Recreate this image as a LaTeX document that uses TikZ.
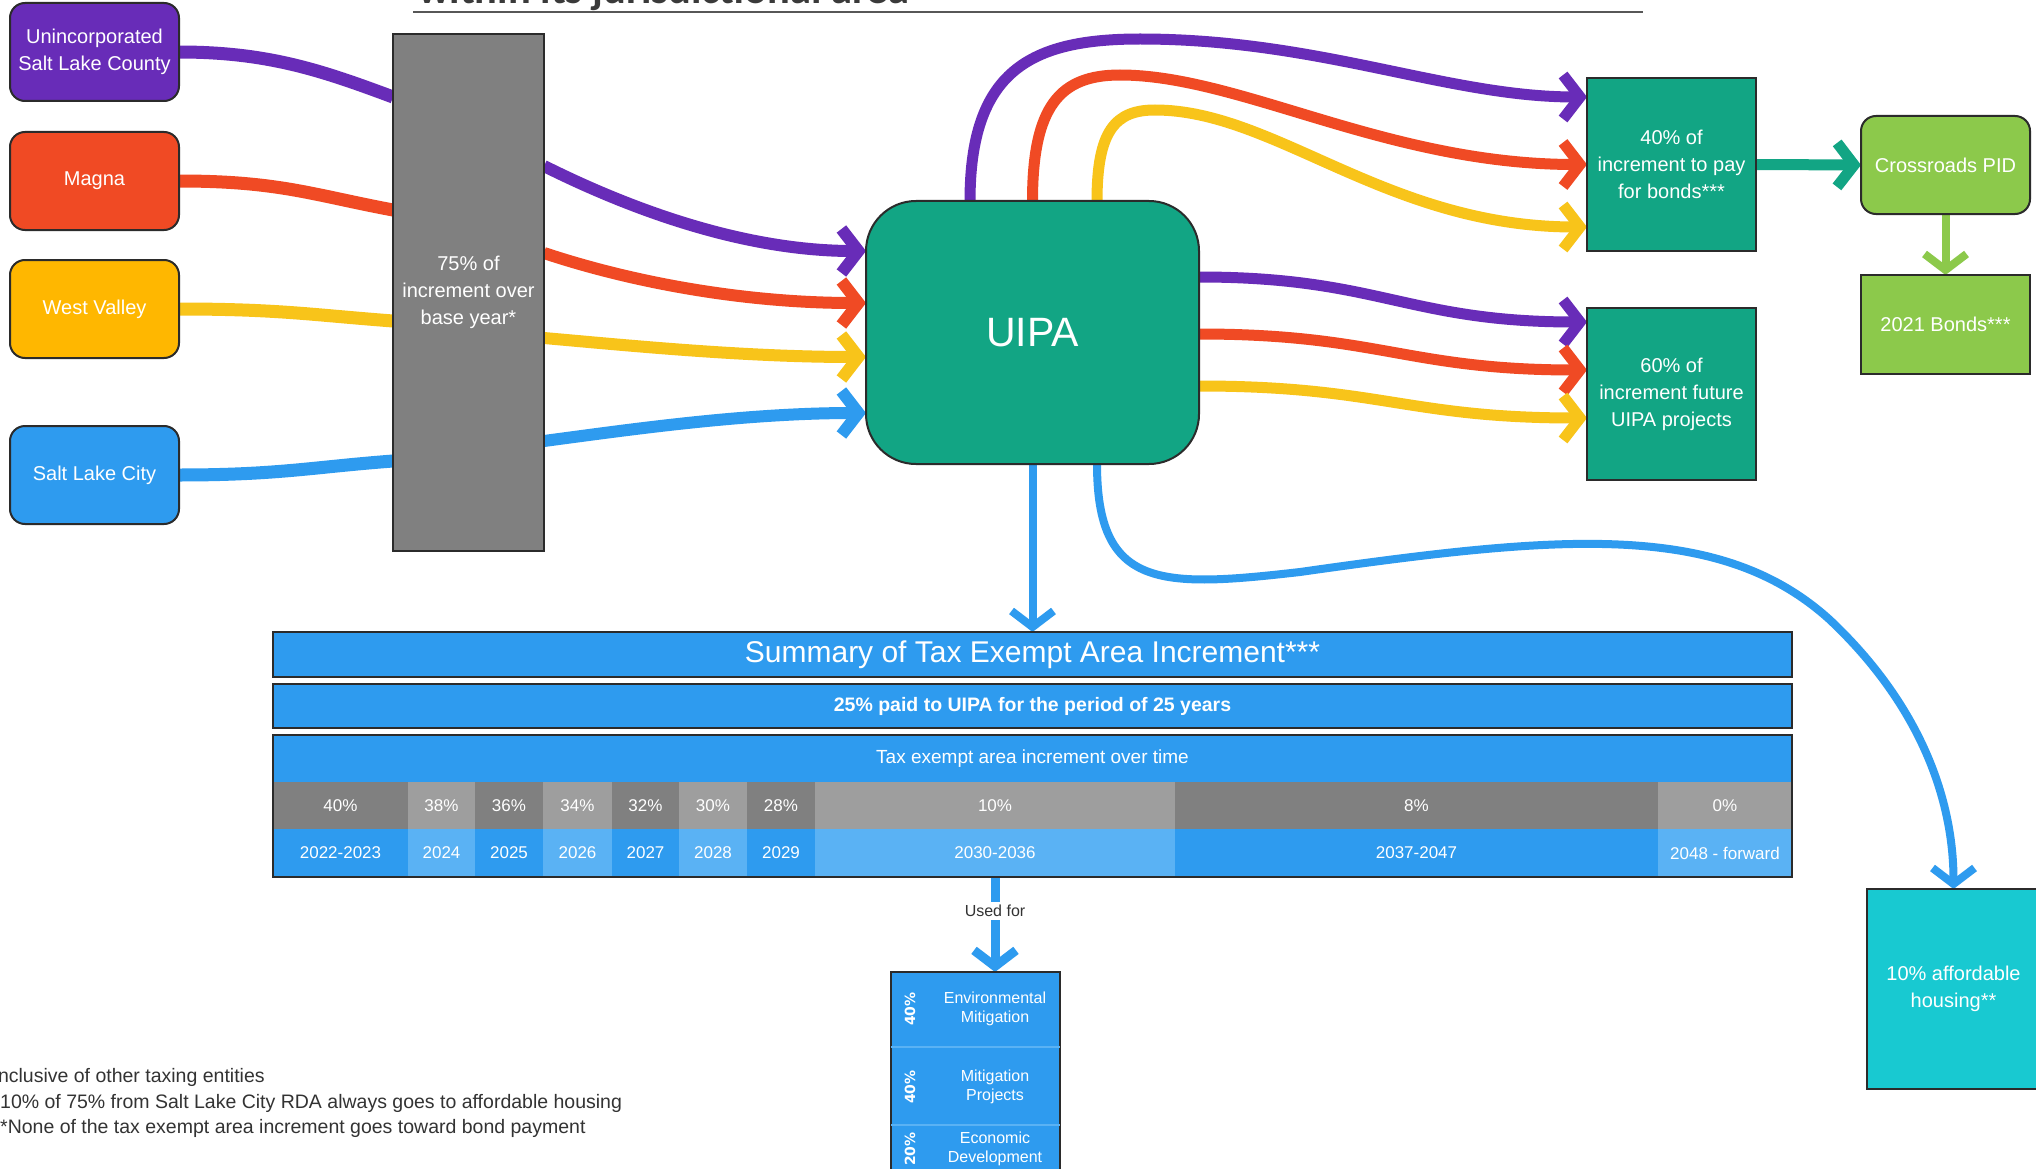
\documentclass[tikz,border=0pt]{standalone}
\usepackage{fontspec}
\setmainfont{Liberation Sans}
\newfontfamily\titlefont{Carlito}
\newfontfamily\pctfont{DejaVu Sans}
\usetikzlibrary{arrows.meta,calc}
\pgfdeclarelayer{bg}
\pgfsetlayers{bg,main}
\definecolor{purpleC}{HTML}{682CB8}
\definecolor{redC}{HTML}{F04A24}
\definecolor{amberC}{HTML}{FFB700}
\definecolor{yellowC}{HTML}{F8C41A}
\definecolor{blueC}{HTML}{2E9BEF}
\definecolor{blueL}{HTML}{5AB2F4}
\definecolor{grayD}{HTML}{808080}
\definecolor{grayL}{HTML}{9E9E9E}
\definecolor{tealC}{HTML}{12A584}
\definecolor{greenC}{HTML}{8CC94B}
\definecolor{cyanC}{HTML}{18C9D1}
\definecolor{borderC}{HTML}{2B2B2B}
\definecolor{textC}{HTML}{333333}
\definecolor{titleC}{HTML}{3A3A3A}
\begin{document}
\begin{tikzpicture}[x=1pt,y=-1pt,
  every node/.style={inner sep=0pt, outer sep=0pt},
  box/.style={draw=borderC, line width=2pt, text=white, align=center, font=\fontsize{20}{27}\selectfont},
  src/.style={box, rounded corners=15pt, minimum width=169pt, minimum height=98pt},
  celltext/.style={text=white, font=\fontsize{17}{20}\selectfont},
  usetext/.style={text=white, align=center, font=\fontsize{16}{19}\selectfont},
  pcttext/.style={text=white, rotate=90, font=\pctfont\bfseries\fontsize{14}{16}\selectfont},
  tipA/.style={-{Straight Barb[length=17pt,width=44pt]}},
  tipB/.style={-{Straight Barb[length=16pt,width=42pt]}}]
\useasboundingbox (0,0) rectangle (2036,1169);

% title (cut at the top)
\node[anchor=base west, text=titleC, font=\titlefont\bfseries\fontsize{42.5}{46}\selectfont] (title) at (418,4) {within its jurisdictional area};
\draw[line width=2pt, titleC!85] (413,12) -- (1643,12);

% sources
\node[src, fill=purpleC] (s1) at (94.5,52) {Unincorporated\\Salt Lake County};
\node[src, fill=redC] (s2) at (94.5,181) {Magna};
\node[src, fill=amberC] (s3) at (94.5,309) {West Valley};
\node[src, fill=blueC] (s4) at (94.5,475) {Salt Lake City};

\node[box, fill=grayD, minimum width=151pt, minimum height=517pt] (gray) at (468.5,292.5) {75\% of\\increment over\\base year*};

\node[box, fill=tealC, rounded corners=50pt, minimum width=333pt, minimum height=263pt, font=\fontsize{41}{48}\selectfont] (uipa) at (1032.5,332.5) {UIPA};

\node[box, fill=tealC, minimum width=169pt, minimum height=173pt] (b40) at (1671.5,164.5) {40\% of\\increment to pay\\for bonds***};
\node[box, fill=tealC, minimum width=169pt, minimum height=172pt] (p60) at (1671.5,394) {60\% of\\increment future\\UIPA projects};
\node[box, fill=greenC, rounded corners=15pt, minimum width=169pt, minimum height=98pt] (pid) at (1945.5,165) {Crossroads PID};
\node[box, fill=greenC, minimum width=169pt, minimum height=99pt] (b21) at (1945.5,324.5) {2021 Bonds***};
\node[box, fill=cyanC, minimum width=173pt, minimum height=200pt] (aff) at (1953.5,989) {10\% affordable\\housing**};

% summary
\node[box, fill=blueC, minimum width=1519pt, minimum height=45pt, font=\fontsize{30}{36}\selectfont] (sum) at (1032.5,654.5) {Summary of Tax Exempt Area Increment***};
\node[box, fill=blueC, minimum width=1519pt, minimum height=44pt, font=\bfseries\fontsize{19.5}{24}\selectfont] (paid) at (1032.5,706) {25\% paid to UIPA for the period of 25 years};

% table
\fill[blueC] (273,735) rectangle (1792,782);
\node[celltext, font=\fontsize{19}{23}\selectfont] (hdr) at (1032.5,758.5) {Tax exempt area increment over time};
\foreach \i/\xa/\xb/\pc/\yr/\gs/\bs in {
 1/273/408/40/2022-2023/grayD/blueC,
 2/408/475/38/2024/grayL/blueL,
 3/475/543/36/2025/grayD/blueC,
 4/543/612/34/2026/grayL/blueL,
 5/612/679/32/2027/grayD/blueC,
 6/679/747/30/2028/grayL/blueL,
 7/747/815/28/2029/grayD/blueC,
 8/815/1175/10/2030-2036/grayL/blueL,
 9/1175/1658/8/2037-2047/grayD/blueC,
 10/1658/1792/0/2048 - forward/grayL/blueL}
{
 \fill[\gs] (\xa,782) rectangle (\xb,829);
 \fill[\bs] (\xa,829) rectangle (\xb,877);
 \node[celltext] (pc\i) at ({(\xa+\xb)/2},805.5) {\pc\%};
 \node[celltext] (yr\i) at ({(\xa+\xb)/2},853) {\yr};
}
\node[draw=borderC, line width=2pt, minimum width=1519pt, minimum height=142pt] (tbl) at (1032.5,806) {};

% uses box
\node[draw=borderC, line width=2pt, fill=blueC, minimum width=169pt, minimum height=240pt, anchor=north] (uses) at (975.5,972) {};
\draw[blueL, line width=1.2pt] (891,1047) -- (1060,1047);
\draw[blueL, line width=1.2pt] (891,1125) -- (1060,1125);
\node[usetext] (u1) at (995,1009) {Environmental\\Mitigation};
\node[usetext] (u2) at (995,1087) {Mitigation\\Projects};
\node[usetext] (u3) at (995,1149) {Economic\\Development};
\node[pcttext] (r1) at (910,1009) {40\%};
\node[pcttext] (r2) at (910,1087) {40\%};
\node[pcttext] (r3) at (910,1149) {20\%};

% footnotes
\node[anchor=west, align=left, text=textC, font=\fontsize{19.5}{25.5}\selectfont] (notes) at (-15,1103) {*Inclusive of other taxing entities\\**10\% of 75\% from Salt Lake City RDA always goes to affordable housing\\***None of the tax exempt area increment goes toward bond payment};

% waypoints
\coordinate (ptop) at (1140,39);
\coordinate (rtop) at (1120,75);
\coordinate (ytop) at (1155,110);
\coordinate (bl1) at (1300,572);
\coordinate (bl2) at (1830,620);

\begin{pgfonlayer}{bg}
\fill[white] (0,0) rectangle (2036,1169);
% sources -> gray
\draw[purpleC, line width=13pt] (s1.east) .. controls +(90,0) and +(-70,-26) .. ($(gray.north west)+(0,63)$);
\draw[redC, line width=13pt] (s2.east) .. controls +(100,0) and +(-80,-15) .. ($(gray.north west)+(0,176)$);
\draw[yellowC, line width=13pt] (s3.east) .. controls +(100,0) and +(-80,-6) .. ($(gray.north west)+(0,287)$);
\draw[blueC, line width=13pt] (s4.east) .. controls +(100,0) and +(-80,6) .. ($(gray.north west)+(0,427)$);
% gray -> UIPA
\draw[purpleC, line width=12pt, tipA] ($(gray.north east)+(0,132)$) .. controls +(90,45) and +(-120,0) .. ($(uipa.west)+(0,-81.5)$);
\draw[redC, line width=12pt, tipA] ($(gray.north east)+(0,219)$) .. controls +(90,30) and +(-120,0) .. ($(uipa.west)+(0,-29.5)$);
\draw[yellowC, line width=12pt, tipA] ($(gray.north east)+(0,304)$) .. controls +(90,8) and +(-120,0) .. ($(uipa.west)+(0,24.5)$);
\draw[blueC, line width=12pt, tipA] ($(gray.north east)+(0,407)$) .. controls +(90,-12) and +(-120,0) .. ($(uipa.west)+(0,80.5)$);
% UIPA top -> 40%
\draw[purpleC, line width=11pt, tipA] ($(uipa.north)+(-62.5,0)$) .. controls +(0,-130) and +(-110,0) .. (ptop) .. controls +(180,0) and +(-140,0) .. ($(b40.west)+(0,-67.5)$);
\draw[redC, line width=11pt, tipA] (uipa.north) .. controls +(0,-95) and +(-60,0) .. (rtop) .. controls +(120,0) and +(-200,0) .. (b40.west);
\draw[yellowC, line width=11pt, tipA] ($(uipa.north)+(64.5,0)$) .. controls +(0,-70) and +(-40,0) .. (ytop) .. controls +(120,0) and +(-200,0) .. ($(b40.west)+(0,62.5)$);
% UIPA right -> 60%
\draw[purpleC, line width=11pt, tipA] ($(uipa.east)+(0,-55.5)$) .. controls +(180,0) and +(-180,0) .. ($(p60.west)+(0,-72)$);
\draw[redC, line width=11pt, tipA] ($(uipa.east)+(0,1.5)$) .. controls +(180,0) and +(-180,0) .. ($(p60.west)+(0,-24)$);
\draw[yellowC, line width=11pt, tipA] ($(uipa.east)+(0,53.5)$) .. controls +(180,0) and +(-180,0) .. ($(p60.west)+(0,24)$);
% bonds chain
\draw[tealC, line width=11pt, tipA] (b40.east) -- (pid.west);
\draw[greenC, line width=8pt, tipB] (pid.south) -- (b21.north);
% UIPA bottom
\draw[blueC, line width=8pt, tipB] (uipa.south) -- (sum.north);
\draw[blueC, line width=8pt, tipB] ($(uipa.south)+(64.5,0)$) .. controls +(0,125) and +(-140,16) .. (bl1) .. controls +(260,-37) and +(-110,-100) .. (bl2) .. controls +(90,85) and +(0,-90) .. (aff.north);
% used for
\draw[blueC, line width=9pt, tipB] ($(tbl.south)+(-37.5,0)$) -- (u1 |- uses.north);
\end{pgfonlayer}
\node[fill=white, inner sep=3pt, text=textC, font=\fontsize{16}{19}\selectfont] (usedfor) at (995,911) {Used for};
\end{tikzpicture}
\end{document}
